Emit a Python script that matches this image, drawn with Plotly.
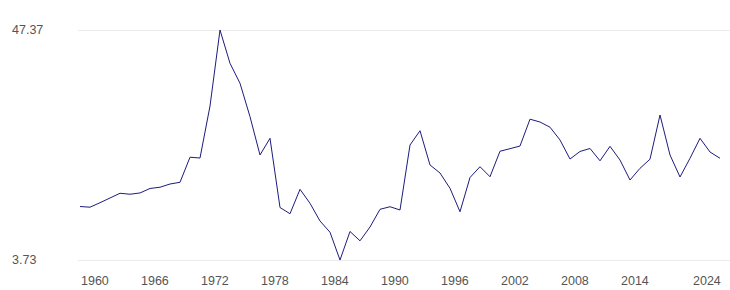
import plotly.graph_objects as go

years = list(range(1960, 2025))
values = [13.88, 13.75, 14.60, 15.49, 16.39, 16.21, 16.45, 17.30, 17.54, 18.15,
          18.47, 23.23, 23.08, 32.95, 47.37, 41.05, 37.26, 30.92, 23.65, 26.82,
          13.69, 12.51, 17.14, 14.49, 11.13, 9.00, 3.73, 9.14, 7.37, 9.99,
          13.35, 13.84, 13.22, 25.55, 28.26, 21.76, 20.24, 17.33, 12.89, 19.38,
          21.43, 19.53, 24.37, 24.85, 25.36, 30.45, 29.91, 28.93, 26.50, 22.89,
          24.32, 24.89, 22.55, 25.30, 22.70, 18.91, 21.13, 22.86, 31.24, 23.65,
          19.48, 23.03, 26.82, 24.22, 23.03]
x_tick_labels = ["1960", "1966", "1972", "1978", "1984", "1990", "1996",
                 "2002", "2008", "2014", "2024"]
y_tick_values = [3.73, 47.37]
y_tick_labels = ["3.73", "47.37"]

W, H = 730, 290
ML, MR, MT, MB = 78, 0, 28, 28
pw = W - ML - MR
ph = H - MT - MB
px_per_year = 10.0
x0 = 1960 - 2 / px_per_year
x1 = x0 + pw / px_per_year
ypad = (y_tick_values[1] - y_tick_values[0]) / 230 * 2
font_family = "Liberation Sans, Arial, sans-serif"
text_color = "#555555"

fig = go.Figure()
fig.add_trace(go.Scatter(x=years, y=values, mode="lines",
                         line=dict(color="#1c1c7c", width=1),
                         hoverinfo="x+y", showlegend=False))

annotations = []
for i, lab in enumerate(x_tick_labels):
    yr = int(lab)
    last = i == len(x_tick_labels) - 1
    annotations.append(dict(x=yr, y=(MB - 281 + (H - MB) - (H - MB)) / ph if False else -(281 - (H - MB)) / ph,
                            xref="x", yref="paper", text=lab, showarrow=False,
                            xanchor="right" if last else "left", yanchor="middle",
                            xshift=3 if last else -1,
                            font=dict(size=12.5, color=text_color, family=font_family)))
for v, lab in zip(y_tick_values, y_tick_labels):
    annotations.append(dict(x=(10 - ML) / pw, y=v, xref="paper", yref="y", text=lab,
                            showarrow=False, xanchor="left", yanchor="middle",
                            font=dict(size=12.5, color=text_color, family=font_family)))

fig.update_layout(
    width=W, height=H,
    margin=dict(l=ML, r=MR, t=MT, b=MB, pad=0),
    paper_bgcolor="white", plot_bgcolor="white",
    font=dict(family=font_family, size=12.5, color=text_color),
    xaxis=dict(range=[x0, x1], showgrid=False, zeroline=False, showticklabels=False,
               showline=False, ticks="", fixedrange=True),
    yaxis=dict(range=[y_tick_values[0] - ypad, y_tick_values[1] + ypad],
               tickvals=y_tick_values, showticklabels=False, showgrid=True,
               gridcolor="#ebebeb", gridwidth=1, zeroline=False, showline=False,
               ticks="", fixedrange=True),
    annotations=annotations,
)

fig.write_html("out.html", config={"displayModeBar": False})
